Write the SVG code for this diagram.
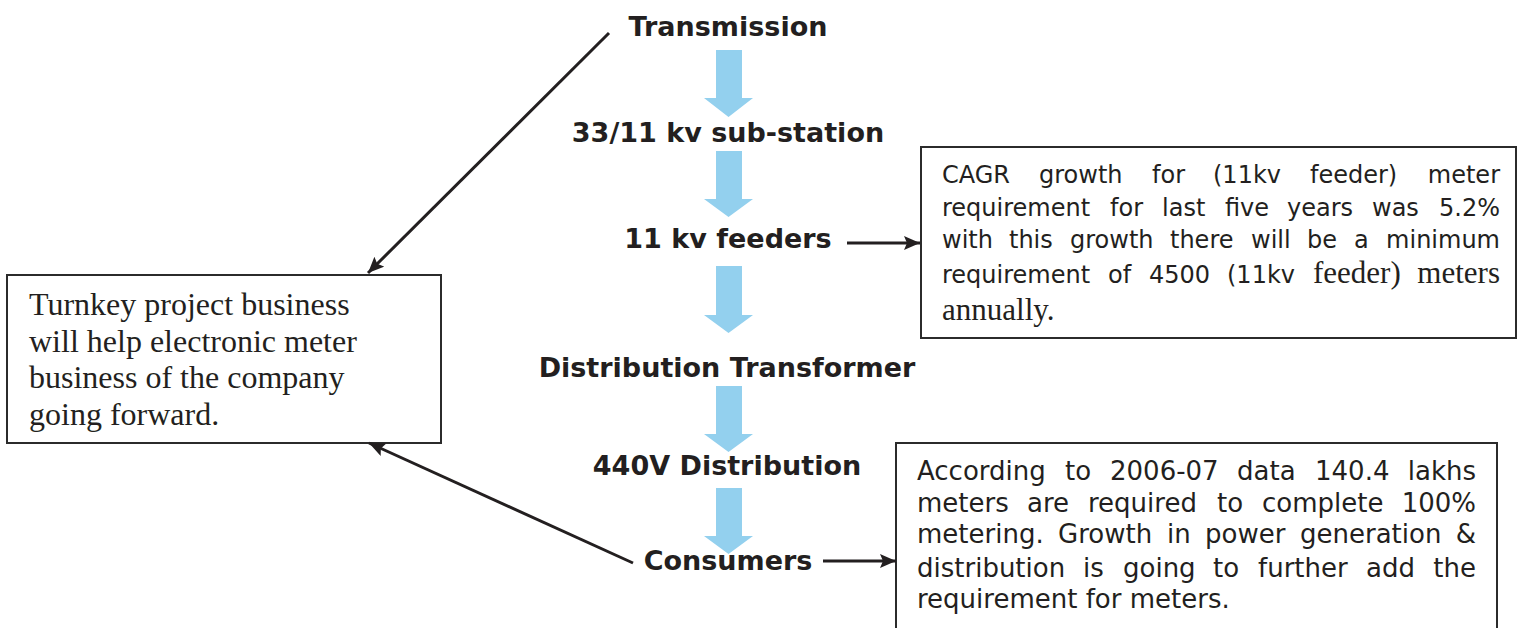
<svg xmlns="http://www.w3.org/2000/svg" width="1518" height="628" viewBox="0 0 1518 628">
<style>
.lbl{font-family:"DejaVu Sans",Verdana,sans-serif;font-weight:bold;font-size:27px;fill:#231f20;text-anchor:middle}
.v24{font-family:"DejaVu Sans",Verdana,sans-serif;font-size:24px;fill:#231f20}
.v26{font-family:"DejaVu Sans",Verdana,sans-serif;font-size:26px;fill:#231f20}
.tm{font-family:"Liberation Serif","Times New Roman",serif;fill:#231f20}
.box{fill:#fff;stroke:#2b2b2b;stroke-width:2}
.flow{fill:#93d0ee}
.conn{stroke:#231f20;stroke-width:3;fill:none}
.e{text-anchor:end}
</style>
<defs>
<marker id="ah" markerUnits="userSpaceOnUse" markerWidth="18" markerHeight="14" refX="16" refY="7" orient="auto">
<path d="M0,0 L16,7 L0,14 L3,7 z" fill="#231f20"/>
</marker>
</defs>
<rect width="1518" height="628" fill="#fff"/>

<g id="flow-arrows">
<path class="flow" d="M716,50 H742 V98 H753 L728.5,117 L704,98 H716 Z"/>
<path class="flow" d="M716,151 H742 V199 H753 L728.5,217 L704,199 H716 Z"/>
<path class="flow" d="M716,266 H742 V315 H753 L728.5,333 L704,315 H716 Z"/>
<path class="flow" d="M716,386 H742 V434 H753 L728.5,452 L704,434 H716 Z"/>
<path class="flow" d="M716,488 H742 V536 H753 L728.5,554 L704,536 H716 Z"/>
</g>

<g id="node-transmission"><text class="lbl" x="728" y="36">Transmission</text></g>
<g id="node-substation"><text class="lbl" x="728" y="142">33/11 kv sub-station</text></g>
<g id="node-feeders"><text class="lbl" x="728" y="248">11 kv feeders</text></g>
<g id="node-dt"><text class="lbl" x="727" y="377">Distribution Transformer</text></g>
<g id="node-440v"><text class="lbl" x="727" y="475">440V Distribution</text></g>
<g id="node-consumers"><text class="lbl" x="728" y="570">Consumers</text></g>

<g id="node-turnkey">
<rect class="box" x="7" y="275" width="434" height="168"/>
<text class="tm" font-size="32"><tspan x="29" y="315">Turnkey project business</tspan><tspan x="29" y="352">will help electronic meter</tspan><tspan x="29" y="388">business of the company</tspan><tspan x="29" y="425">going forward.</tspan></text>
</g>

<g id="node-cagr">
<rect class="box" x="921" y="147" width="595" height="191"/>
<text class="v24" y="183"><tspan x="942">CAGR</tspan><tspan x="1039">growth</tspan><tspan x="1152">for</tspan><tspan x="1213">(11kv</tspan><tspan x="1310">feeder)</tspan><tspan class="e" x="1500">meter</tspan></text>
<text class="v24" y="216"><tspan x="942">requirement</tspan><tspan x="1110">for</tspan><tspan x="1162">last</tspan><tspan x="1225">five</tspan><tspan x="1287">years</tspan><tspan x="1372">was</tspan><tspan class="e" x="1500">5.2%</tspan></text>
<text class="v24" y="248"><tspan x="942">with</tspan><tspan x="1009">this</tspan><tspan x="1070">growth</tspan><tspan x="1170">there</tspan><tspan x="1251">will</tspan><tspan x="1307">be</tspan><tspan x="1354">a</tspan><tspan class="e" x="1500">minimum</tspan></text>
<text y="283"><tspan class="v24" x="942">requirement</tspan><tspan class="v24" x="1108">of</tspan><tspan class="v24" x="1149">4500</tspan><tspan class="v24" x="1227">(11kv</tspan><tspan class="tm" font-size="31" x="1313">feeder)</tspan><tspan class="tm e" font-size="31" x="1500">meters</tspan></text>
<text class="tm" font-size="31" x="942" y="320">annually.</text>
</g>

<g id="node-meters">
<rect class="box" x="896" y="443" width="601" height="200"/>
<text class="v26" y="480"><tspan x="917">According</tspan><tspan x="1065">to</tspan><tspan x="1110">2006-07</tspan><tspan x="1237">data</tspan><tspan x="1315">140.4</tspan><tspan class="e" x="1476">lakhs</tspan></text>
<text class="v26" y="512"><tspan x="917">meters</tspan><tspan x="1027">are</tspan><tspan x="1088">required</tspan><tspan x="1217">to</tspan><tspan x="1262">complete</tspan><tspan class="e" x="1476">100%</tspan></text>
<text class="v26" y="543"><tspan x="917">metering.</tspan><tspan x="1058">Growth</tspan><tspan x="1167">in</tspan><tspan x="1205">power</tspan><tspan x="1300">generation</tspan><tspan class="e" x="1476">&amp;</tspan></text>
<text class="v26" y="577"><tspan x="917">distribution</tspan><tspan x="1083">is</tspan><tspan x="1123">going</tspan><tspan x="1213">to</tspan><tspan x="1258">further</tspan><tspan x="1366">add</tspan><tspan class="e" x="1476">the</tspan></text>
<text class="v26" x="917" y="608">requirement for meters.</text>
</g>

<g id="connectors">
<line class="conn" x1="609" y1="33" x2="368" y2="273" marker-end="url(#ah)"/>
<line class="conn" x1="633" y1="563" x2="369" y2="443" marker-end="url(#ah)"/>
<line class="conn" x1="847" y1="243" x2="920" y2="243" marker-end="url(#ah)"/>
<line class="conn" x1="823" y1="561" x2="896" y2="561" marker-end="url(#ah)"/>
</g>
</svg>
